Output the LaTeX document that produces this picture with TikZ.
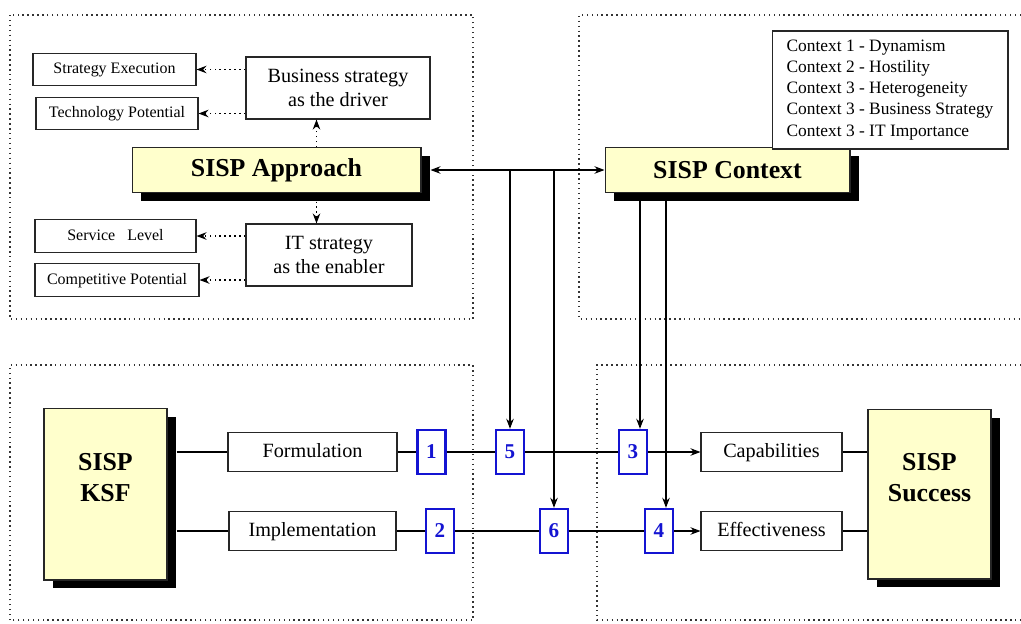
\documentclass[tikz,border=0pt]{standalone}
\usepackage{fontspec}
\setmainfont{Liberation Serif}
\usetikzlibrary{arrows.meta,shadows}
\definecolor{paleyellow}{RGB}{255,255,204}
\definecolor{numblue}{RGB}{20,20,210}

\begin{document}
\begin{tikzpicture}[x=0.02cm,y=-0.02cm,
		>={Stealth[length=0.2cm,width=0.15cm]},
		txtbox/.style={draw=black!85,fill=white,line width=0.6pt,inner sep=0pt},
		smalltxt/.style={txtbox,font=\fontsize{9.1}{11}\selectfont,minimum height=0.65cm,text height=6.6pt,text depth=2pt},
		midtxt/.style={txtbox,font=\fontsize{11.5}{13.7}\selectfont,align=center},
		rowtxt/.style={txtbox,font=\fontsize{11.5}{13.7}\selectfont,minimum height=0.78cm,text height=8.4pt,text depth=2.6pt},
		bigtxt/.style={font=\bfseries\fontsize{14.7}{17.6}\selectfont,align=center},
		mainbox/.style={draw=black!85,fill=paleyellow,line width=0.6pt,inner sep=0pt,bigtxt,
			drop shadow={shadow xshift=0.18cm,shadow yshift=-0.17cm,fill=black,opacity=1}},
		numbox/.style={draw=numblue,line width=1.4pt,fill=white,text=numblue,
			font=\bfseries\fontsize{12}{14}\selectfont,minimum width=0.56cm,minimum height=0.88cm,inner sep=0pt},
		region/.style={dotted,line width=0.8pt,black!80},
		conn/.style={line width=0.6pt},
		dotarr/.style={dotted,line width=0.8pt,->}
	]
	\useasboundingbox (0,0) rectangle (1021,623);

	\draw[region] (10,15) rectangle (473,319);
	\draw[region] (1021,15) -- (579,15) -- (579,319) -- (1021,319);
	\draw[region] (10,620) -- (10,365) -- (473,365) -- (473,620) -- cycle;
	\draw[region] (1021,365) -- (597,365) -- (597,620) -- (1021,620);

	\node[smalltxt,minimum width=3.26cm] (se) at (114.5,69.5) {Strategy Execution};
	\node[smalltxt,minimum width=3.24cm] (tp) at (117,113.5) {Technology Potential};
	\node[midtxt,minimum width=3.68cm,minimum height=1.24cm] (bsd) at (338,88) {Business strategy\\as the driver};
	\node[mainbox,minimum width=5.78cm,minimum height=0.9cm] (app) at (276.5,170) {SISP Approach};
	\node[midtxt,minimum width=3.32cm,minimum height=1.24cm] (itd) at (329,255) {IT strategy\\as the enabler};
	\node[smalltxt,minimum width=3.22cm] (sl) at (115.5,236) {Service~~~Level};
	\node[smalltxt,minimum width=3.28cm] (cp) at (117,280) {Competitive Potential};

	\node[mainbox,minimum width=4.9cm,minimum height=0.9cm] (ctx) at (727.5,170) {SISP Context};
	\node[txtbox,font=\fontsize{9.9}{12}\selectfont,align=left,minimum width=4.72cm,minimum height=2.36cm] (lst) at (890,90)
		{Context 1 - Dynamism\\Context 2 - Hostility\\Context 3 - Heterogeneity\\Context 3 - Business Strategy\\Context 3 - IT Importance};

	\node[mainbox,minimum width=2.46cm,minimum height=3.44cm,
		label={[bigtxt,yshift=0.33cm]center:{SISP\\KSF}}] (ksf) at (105.5,494) {};
	\node[rowtxt,minimum width=3.38cm] (frm) at (312.5,452) {Formulation};
	\node[rowtxt,minimum width=3.34cm] (imp) at (312.5,531) {Implementation};
	\node[numbox] (b1) at (431.5,452) {1};
	\node[numbox] (b2) at (440,531) {2};
	\node[numbox] (b5) at (510,452) {5};
	\node[numbox] (b6) at (554,531) {6};
	\node[numbox] (b3) at (633,452) {3};
	\node[numbox] (b4) at (659,531) {4};
	\node[rowtxt,minimum width=2.82cm] (cap) at (771.5,452) {Capabilities};
	\node[rowtxt,minimum width=2.82cm] (eff) at (771.5,531) {Effectiveness};
	\node[mainbox,minimum width=2.46cm,minimum height=3.4cm,
		label={[bigtxt,yshift=0.33cm]center:{SISP\\Success}}] (suc) at (929.5,494) {};

	\draw[dotarr] (bsd.west |- se.east) -- (se.east);
	\draw[dotarr] (bsd.west |- tp.east) -- (tp.east);
	\draw[dotarr] (itd.west |- sl.east) -- (sl.east);
	\draw[dotarr] (itd.west |- cp.east) -- (cp.east);
	\draw[dotarr] ([xshift=0.8cm]app.north) -- ([xshift=0.8cm]app.north |- bsd.south);
	\draw[dotarr] ([xshift=0.8cm,yshift=-0.17cm]app.south) -- ([xshift=0.8cm]app.south |- itd.north);

	\draw[conn,<->] ([xshift=0.18cm]app.east) -- (ctx.west);
	\draw[conn,->] (b5.north |- ctx.west) -- (b5.north);
	\draw[conn,->] (b6.north |- ctx.west) -- (b6.north);
	\draw[conn,->] ([xshift=0.14cm]b3.north |- ctx.south) -- ([xshift=0.14cm]b3.north);
	\draw[conn,->] ([xshift=0.14cm]b4.north |- ctx.south) -- ([xshift=0.14cm]b4.north);

	\draw[conn] ([xshift=0.18cm]ksf.east |- frm.west) -- (frm.west);
	\draw[conn] (frm.east) -- (b1.west);
	\draw[conn] (b1.east) -- (b5.west);
	\draw[conn] (b5.east) -- (b3.west);
	\draw[conn,->] (b3.east) -- (cap.west);
	\draw[conn] (cap.east) -- (suc.west |- cap.east);

	\draw[conn] ([xshift=0.18cm]ksf.east |- imp.west) -- (imp.west);
	\draw[conn] (imp.east) -- (b2.west);
	\draw[conn] (b2.east) -- (b6.west);
	\draw[conn] (b6.east) -- (b4.west);
	\draw[conn,->] (b4.east) -- (eff.west);
	\draw[conn] (eff.east) -- (suc.west |- eff.east);
\end{tikzpicture}
\end{document}
